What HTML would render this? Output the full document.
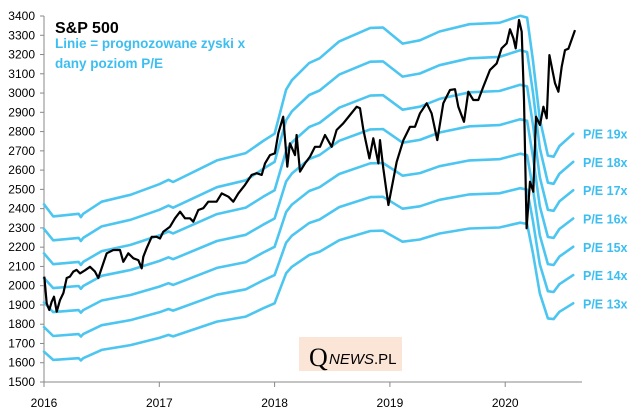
<!DOCTYPE html>
<html><head><meta charset="utf-8"><style>
body{margin:0;background:#fff;}
svg{display:block;font-family:"Liberation Sans",sans-serif;}
</style></head><body>
<svg id="chart" width="643" height="416" xmlns="http://www.w3.org/2000/svg">
<rect x="0" y="0" width="643" height="416" fill="#fff"/>
<g id="grid"></g>
<g id="pelines"></g>
<g id="price"></g>
<g id="labels"></g>
<text x="55" y="33" font-size="16" font-weight="bold" fill="#000">S&amp;P 500</text>
<text x="55" y="48" font-size="13.5" font-weight="bold" fill="#3cbef0">Linie = prognozowane zyski x</text>
<text x="55" y="68" font-size="13.5" font-weight="bold" fill="#3cbef0">dany poziom P/E</text>
<g>
<rect x="299" y="337" width="103" height="34" fill="#fbe5d6"/>
<text x="309" y="366" font-family="'Liberation Serif',serif" font-size="26" fill="#000">Q</text>
<text x="329" y="364" font-size="15" fill="#000"><tspan font-style="italic">NEWS</tspan>.PL</text>
</g>
</svg>
<script>
const yTicks=[1500,1600,1700,1800,1900,2000,2100,2200,2300,2400,2500,2600,2700,2800,2900,3000,3100,3200,3300,3400];
const xTicks=[2016,2017,2018,2019,2020];
const peLevels=[19,18,17,16,15,14,13];
const epsDates=[2016.0,2016.08,2016.3,2016.32,2016.34,2016.5,2016.75,2017.0,2017.08,2017.12,2017.5,2017.75,2017.9,2018.0,2018.1,2018.15,2018.3,2018.39,2018.56,2018.83,2018.94,2019.11,2019.26,2019.43,2019.69,2019.95,2020.13,2020.19,2020.24,2020.30,2020.37,2020.42,2020.47,2020.59];
const epsValues=[127.5,124.2,124.9,124.0,124.9,128.2,130.1,133,134.2,133.6,139.5,141.5,144.8,146.8,158.8,161.4,166.1,167.4,172,175.7,175.8,171.4,172.3,174.7,176.7,177.1,179,178.5,166.9,150.8,140.8,140.5,143.4,146.8];
const spDates=[2016.003,2016.023,2016.046,2016.067,2016.087,2016.110,2016.139,2016.168,2016.197,2016.225,2016.254,2016.283,2016.312,2016.356,2016.399,2016.442,2016.471,2016.544,2016.601,2016.659,2016.688,2016.731,2016.775,2016.818,2016.847,2016.861,2016.890,2016.934,2016.977,2017.006,2017.035,2017.093,2017.136,2017.180,2017.223,2017.266,2017.295,2017.338,2017.382,2017.425,2017.497,2017.541,2017.599,2017.642,2017.685,2017.743,2017.801,2017.844,2017.888,2017.917,2017.960,2018.003,2018.032,2018.075,2018.110,2018.133,2018.177,2018.191,2018.220,2018.264,2018.307,2018.350,2018.394,2018.437,2018.495,2018.538,2018.596,2018.654,2018.712,2018.741,2018.770,2018.822,2018.856,2018.900,2018.914,2018.943,2018.987,2019.059,2019.117,2019.174,2019.218,2019.261,2019.319,2019.362,2019.411,2019.463,2019.521,2019.565,2019.593,2019.643,2019.680,2019.723,2019.767,2019.810,2019.868,2019.926,2019.969,2020.013,2020.042,2020.071,2020.091,2020.120,2020.143,2020.163,2020.186,2020.215,2020.244,2020.267,2020.302,2020.331,2020.360,2020.383,2020.432,2020.461,2020.490,2020.519,2020.548,2020.605];
const spValues=[2047,1908,1874,1917,1943,1865,1925,1962,2040,2047,2073,2082,2064,2080,2098,2073,2040,2168,2185,2185,2124,2168,2142,2133,2090,2150,2194,2254,2254,2245,2280,2306,2350,2384,2350,2350,2332,2393,2402,2436,2436,2479,2462,2436,2479,2523,2575,2584,2575,2635,2678,2687,2791,2877,2618,2739,2678,2782,2592,2635,2670,2721,2721,2782,2721,2808,2843,2886,2929,2921,2808,2661,2765,2635,2756,2609,2419,2643,2756,2825,2825,2895,2947,2895,2756,2947,3016,3020,2929,2851,3007,2964,2964,3033,3120,3154,3232,3258,3331,3284,3232,3379,3318,2964,2298,2540,2488,2877,2834,2929,2869,3197,3051,3007,3137,3223,3230,3327];

const X0=44,X1=582,Y0=382,Y1=16;
const xs=d=>X0+(d-2016)*115.3;
const ys=v=>Y0-(v-1500)*(Y0-Y1)/1900;
const NS="http://www.w3.org/2000/svg";
function mk(tag,attrs,parent){const e=document.createElementNS(NS,tag);for(const k in attrs)e.setAttribute(k,attrs[k]);parent.appendChild(e);return e;}
const grid=document.getElementById('grid');
let ax=mk('line',{x1:X0,y1:Y0,x2:X0,y2:Y1,stroke:'#888','stroke-width':1},grid);


let bx=mk('line',{x1:X0,y1:Y0,x2:X1,y2:Y0,stroke:'#888','stroke-width':1},grid);


yTicks.forEach(v=>{
 const y=ys(v);
 mk('line',{x1:X0-4,y1:y,x2:X0,y2:y,stroke:'#888'},grid);
 const t=mk('text',{x:35,y:y+4,'text-anchor':'end','font-size':12,fill:'#000'},grid);
 t.textContent=v;
 
 
});
xTicks.forEach(d=>{
 const x=xs(d);
 mk('line',{x1:x,y1:Y0,x2:x,y2:Y0+5,stroke:'#888'},grid);
 const t=mk('text',{x:x,y:407,'text-anchor':'middle','font-size':12,fill:'#000'},grid);
 t.textContent=d;
 
 
});
const pl=document.getElementById('pelines'),lb=document.getElementById('labels');
peLevels.forEach(pe=>{
 const pts=epsDates.map((d,i)=>xs(d).toFixed(1)+','+ys(epsValues[i]*pe).toFixed(1)).join(' ');
 const p=mk('polyline',{points:pts,fill:'none',stroke:'#4cc6f0','stroke-width':2.6,'stroke-linejoin':'round','stroke-linecap':'round'},pl);
 
 
 const last=epsValues[epsValues.length-1]*pe;
 const t=mk('text',{x:583,y:ys(last)+5,'font-size':12.5,'font-weight':'bold',fill:'#3cbef0'},lb);
 t.textContent='P/E '+pe+'x';
 
 
});
const pr=document.getElementById('price');
const sp=mk('polyline',{points:spDates.map((d,i)=>xs(d).toFixed(1)+','+ys(spValues[i]).toFixed(1)).join(' '),fill:'none',stroke:'#000','stroke-width':2.2,'stroke-linejoin':'round'},pr);


</script>
</body></html>
